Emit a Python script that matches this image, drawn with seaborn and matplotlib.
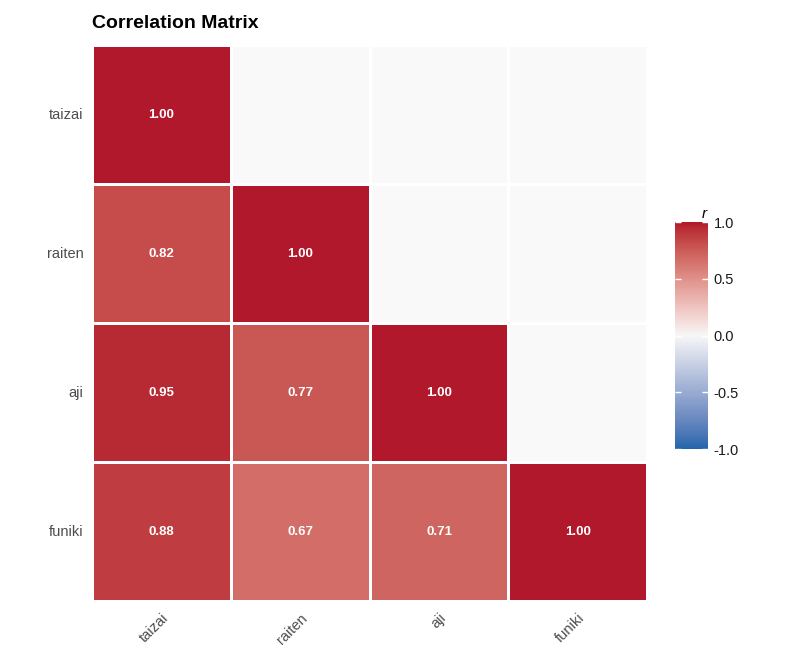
import numpy as np
import pandas as pd
import matplotlib
matplotlib.use("Agg")
import matplotlib.pyplot as plt
import seaborn as sns
from matplotlib.colors import ListedColormap

# dados
variaveis = ["taizai", "raiten", "aji", "funiki"]
taizai = [1.00, 0.82, 0.95, 0.88]
raiten = [0.82, 1.00, 0.77, 0.67]
aji = [0.95, 0.77, 1.00, 0.71]
funiki = [0.88, 0.67, 0.71, 1.00]

corr = pd.DataFrame({"taizai": taizai, "raiten": raiten, "aji": aji, "funiki": funiki},
                    index=variaveis)


# gradiente divergente interpolado em CIELAB (como o ggplot)
def hex2lab(h):
    rgb = np.array([int(h[i:i + 2], 16) for i in (1, 3, 5)]) / 255.0
    rgb = np.where(rgb > 0.04045, ((rgb + 0.055) / 1.055) ** 2.4, rgb / 12.92)
    M = np.array([[0.4124, 0.3576, 0.1805],
                  [0.2126, 0.7152, 0.0722],
                  [0.0193, 0.1192, 0.9505]])
    xyz = M @ rgb / np.array([0.95047, 1.0, 1.08883])
    f = np.where(xyz > 0.008856, np.cbrt(xyz), 7.787 * xyz + 16 / 116)
    return np.array([116 * f[1] - 16, 500 * (f[0] - f[1]), 200 * (f[1] - f[2])])


def lab2rgb(lab):
    fy = (lab[0] + 16) / 116
    fx = fy + lab[1] / 500
    fz = fy - lab[2] / 200
    f = np.array([fx, fy, fz])
    xyz = np.where(f ** 3 > 0.008856, f ** 3, (f - 16 / 116) / 7.787) * np.array([0.95047, 1.0, 1.08883])
    Minv = np.array([[3.2406, -1.5372, -0.4986],
                     [-0.9689, 1.8758, 0.0415],
                     [0.0557, -0.2040, 1.0570]])
    rgb = Minv @ xyz
    rgb = np.where(rgb > 0.0031308, 1.055 * np.clip(rgb, 0, None) ** (1 / 2.4) - 0.055, 12.92 * rgb)
    return np.clip(rgb, 0, 1)


low, mid, high = hex2lab("#2166AC"), hex2lab("#F7F7F7"), hex2lab("#B2182B")
cores = []
for t in np.linspace(0, 1, 256):
    if t < 0.5:
        cores.append(lab2rgb(low + (mid - low) * t / 0.5))
    else:
        cores.append(lab2rgb(mid + (high - mid) * (t - 0.5) / 0.5))
cmap = ListedColormap(cores)

plt.rcParams['font.family'] = ['Liberation Sans', 'DejaVu Sans']

fig = plt.figure(figsize=(7.92, 6.58), dpi=100)
ax = fig.add_axes([0.1162, 0.0866, 0.7010, 0.8449])
cax = fig.add_axes([0.852, 0.3176, 0.042, 0.345])

triu = np.triu(np.ones(corr.shape, dtype=bool), k=1)

# parte de cima: celulas vazias cinza claro
sns.heatmap(corr, mask=~triu, cmap=ListedColormap(["#F9F9F9"]), cbar=False,
            linewidths=2, linecolor="white", ax=ax)
# parte de baixo: correlacoes
sns.heatmap(corr, mask=triu, cmap=cmap, vmin=-1, vmax=1, annot=True, fmt=".2f",
            annot_kws={"color": "white", "fontweight": "bold", "fontsize": 9.5},
            linewidths=2, linecolor="white", ax=ax, cbar_ax=cax)

ax.set_title("Correlation Matrix", loc="left", fontsize=14, fontweight="bold", pad=12)
ax.set_xlabel("")
ax.set_ylabel("")
ax.tick_params(length=0, labelsize=10.5, labelcolor="#4D4D4D")
ax.set_xticklabels(variaveis, rotation=45, ha="right", rotation_mode="anchor")
ax.set_yticklabels(variaveis, rotation=0)
ax.tick_params(axis="x", pad=7)
ax.tick_params(axis="y", pad=6)

cbar = ax.collections[-1].colorbar
cbar.outline.set_visible(False)
cbar.set_ticks([-1.0, -0.5, 0.0, 0.5, 1.0])
cbar.set_ticklabels(["-1.0", "-0.5", "0.0", "0.5", "1.0"])
cax.tick_params(direction="in", color="white", length=4, width=1, labelsize=10.5,
                labelcolor="#1A1A1A", pad=4, left=True, labelleft=False)
cax.set_title("r", fontsize=11, fontstyle="italic", loc="center", pad=3, x=0.9)

plt.savefig("out.png", dpi=100)
